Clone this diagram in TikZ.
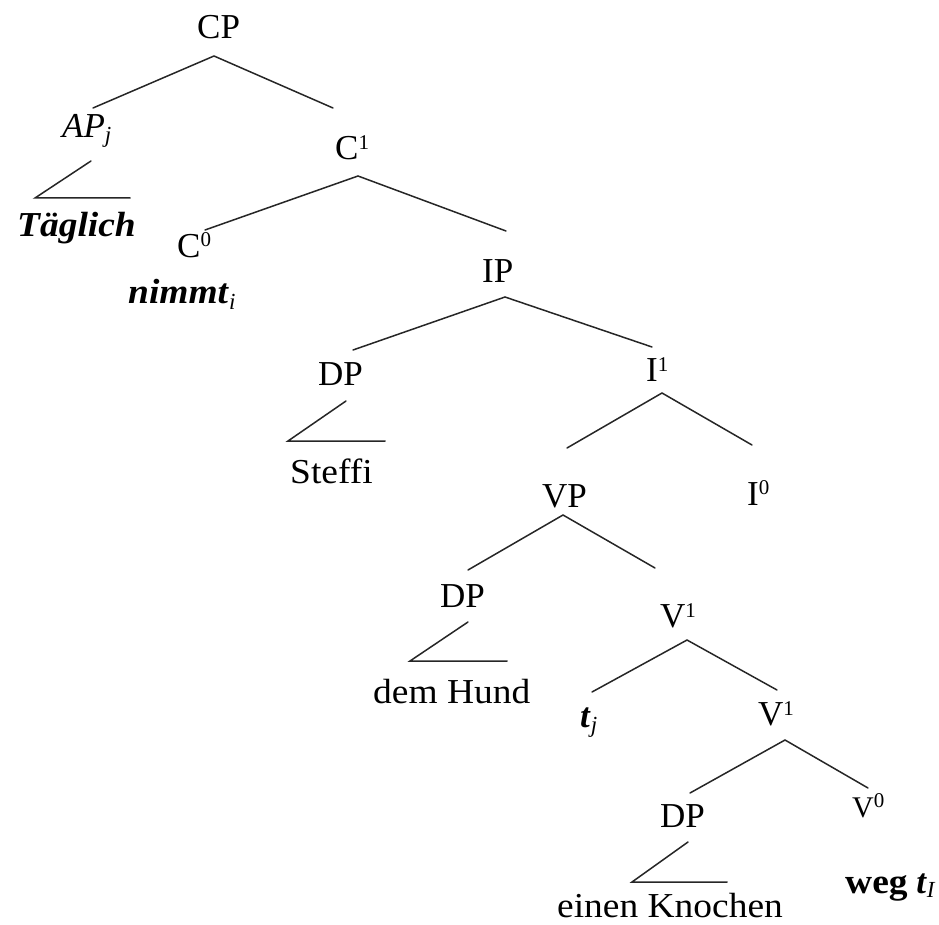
\documentclass[tikz,border=0pt]{standalone}
\usepackage{fontspec}
\usepackage{graphicx}
\setmainfont{Liberation Serif}
\newcommand\mysup[2][10pt]{\raisebox{#1}{\fontsize{21}{21}\selectfont #2}}
\newcommand\mysub[2][-5pt]{\raisebox{#1}{\fontsize{23}{23}\selectfont #2}}
\newcommand\wide[1]{\scalebox{1.07}[1]{#1}}
\begin{document}
\begin{tikzpicture}[x=1pt,y=-1pt,
  lbl/.style={anchor=base west, inner sep=0pt, font=\fontsize{35}{40}\selectfont},
  small/.style={anchor=base west, inner sep=0pt, font=\fontsize{30}{34}\selectfont},
  br/.style={line width=1.5pt, draw=black!85, line cap=round}]
\useasboundingbox (0,0) rectangle (939,925);
% labels
\node[lbl] (cp) at (197,39) {CP};
\node[lbl] (ap) at (62,138) {\textit{AP}\mysub{\textit{j}}};
\node[lbl] (taeglich) at (17,237) {\wide{\textbf{\textit{Täglich}}}};
\node[lbl] (c1) at (335,160) {C\mysup{1}};
\node[lbl] (c0) at (177,258) {C\mysup[11pt]{0}};
\node[lbl] (nimmt) at (128,303) {\wide{\textbf{\textit{nimmt}}}\mysub[-6pt]{\textit{i}}};
\node[lbl] (ip) at (482,283) {IP};
\node[lbl] (dp1) at (318,385) {DP};
\node[lbl] (steffi) at (290,483) {\wide{Steffi}};
\node[lbl] (i1) at (646,381) {I\mysup{1}};
\node[lbl] (vp) at (542,507) {VP};
\node[lbl] (i0) at (747,505) {I\mysup[11pt]{0}};
\node[lbl] (dp2) at (440,607) {DP};
\node[lbl] (hund) at (373,703) {\wide{dem Hund}};
\node[lbl] (v1a) at (660,627) {V\mysup{1}};
\node[lbl] (tj) at (580,727) {\textbf{\textit{t}}\mysub{\textit{j}}};
\node[lbl] (v1b) at (758,725) {V\mysup{1}};
\node[lbl] (dp3) at (660,827) {DP};
\node[small] (v0) at (852,817) {V\mysup[10pt]{0}};
\node[lbl] (knochen) at (557,917) {\wide{einen Knochen}};
\node[lbl] (weg) at (845,893) {\wide{\textbf{weg}} \textbf{\textit{t}}\mysub[-4pt]{\textit{I}}};
% branch end points
\coordinate (cpA) at (214,56);  \coordinate (cpL) at (93,108);  \coordinate (cpR) at (333,108);
\coordinate (apA) at (91,161);  \coordinate (apL) at (35,198);  \coordinate (apR) at (130,198);
\coordinate (c1A) at (358,176); \coordinate (c1L) at (205,230); \coordinate (c1R) at (506,231);
\coordinate (ipA) at (505,297); \coordinate (ipL) at (353,350); \coordinate (ipR) at (652,347);
\coordinate (d1A) at (346,401); \coordinate (d1L) at (288,441); \coordinate (d1R) at (385,441);
\coordinate (i1A) at (662,393); \coordinate (i1L) at (567,448); \coordinate (i1R) at (752,445);
\coordinate (vpA) at (563,515); \coordinate (vpL) at (468,570); \coordinate (vpR) at (655,568);
\coordinate (d2A) at (468,622); \coordinate (d2L) at (410,661); \coordinate (d2R) at (507,661);
\coordinate (vaA) at (687,640); \coordinate (vaL) at (592,692); \coordinate (vaR) at (777,690);
\coordinate (vbA) at (785,740); \coordinate (vbL) at (690,793); \coordinate (vbR) at (868,788);
\coordinate (d3A) at (688,842); \coordinate (d3L) at (632,882); \coordinate (d3R) at (727,882);
% branches
\draw[br] (cpL) -- (cpA) -- (cpR);
\draw[br] (apA) -- (apL) -- (apR);
\draw[br] (c1L) -- (c1A) -- (c1R);
\draw[br] (ipL) -- (ipA) -- (ipR);
\draw[br] (d1A) -- (d1L) -- (d1R);
\draw[br] (i1L) -- (i1A) -- (i1R);
\draw[br] (vpL) -- (vpA) -- (vpR);
\draw[br] (d2A) -- (d2L) -- (d2R);
\draw[br] (vaL) -- (vaA) -- (vaR);
\draw[br] (vbL) -- (vbA) -- (vbR);
\draw[br] (d3A) -- (d3L) -- (d3R);
\end{tikzpicture}
\end{document}
